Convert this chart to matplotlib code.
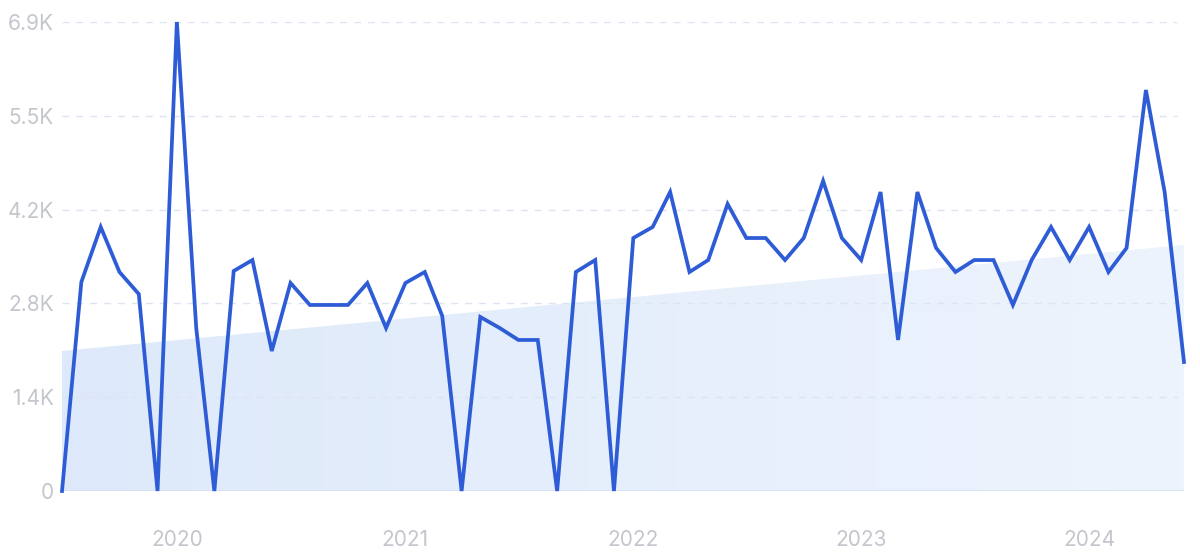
import matplotlib
matplotlib.use("Agg")
from matplotlib import pyplot as plt
import matplotlib.dates as mdates
import numpy as np
import pandas as pd

# monthly values, Jul 2019 .. Jun 2024
months = pd.date_range("2019-07-01", periods=60, freq="MS")
values = [
    0, 3075, 3884, 3222, 2898, 0,
    6900, 2398, 0, 3237, 3398, 2060, 3060, 2737, 2737, 2737, 3060, 2398,
    3060, 3222, 2575, 0, 2560, 2398, 2222, 2222, 0, 3222, 3398, 0,
    3722, 3884, 4399, 3222, 3398, 4222, 3722, 3722, 3398, 3722, 4561, 3722,
    3398, 4399, 2222, 4399, 3575, 3222, 3398, 3398, 2737, 3398, 3884, 3398,
    3884, 3222, 3575, 5900, 4399, 1898,
]
trend_ends = [2060, 3620]

y_ticks = [0, 1380, 2760, 4140, 5520, 6900]
y_labels = ["0", "1.4K", "2.8K", "4.2K", "5.5K", "6.9K"]
x_years = ["2020", "2021", "2022", "2023", "2024"]

LINE = "#2d5cd6"
GRID = "#dce4f2"
TEXT = "#c3c6cc"

plt.rcParams["font.family"] = ["Inter", "DejaVu Sans"]

fig = plt.figure(figsize=(12, 5.53), dpi=100)
ax = fig.add_axes([62 / 1200, 1 - 491 / 553, (1184 - 62) / 1200, (491 - 22) / 553])

x = mdates.date2num(months)
trend = np.interp(x, [x[0], x[-1]], trend_ends)

# gradient fill under the trend line
fill = ax.fill_between(x, 0, trend, color="none", lw=0)
grad = np.linspace(0, 1, 256).reshape(1, -1)
cmap = matplotlib.colors.LinearSegmentedColormap.from_list("g", ["#dde9fa", "#eef4fd"])
img = ax.imshow(grad, extent=[x[0], x[-1], 0, 6900], aspect="auto", cmap=cmap,
                origin="lower", zorder=1)
img.set_clip_path(fill.get_paths()[0], transform=ax.transData)

for t in y_ticks[1:]:
    ax.plot([x[0], x[0] + (x[-1] - x[0]) * 0.994], [t, t], color=GRID, lw=1,
            dashes=(5, 5), zorder=2)
ax.axhline(0, color="#d5e2f5", lw=1.2, zorder=2)

ax.plot(x, values, color=LINE, lw=2.7, zorder=5, clip_on=False,
        solid_joinstyle="miter")

ax.set_xlim(x[0], x[-1])
ax.set_ylim(0, 6900)
ax.set_yticks(y_ticks)
ax.set_yticklabels(y_labels)
ax.set_xticks([mdates.date2num(pd.Timestamp(f"{y}-01-01")) for y in x_years])
ax.set_xticklabels(x_years)
ax.tick_params(length=0, labelsize=15, colors=TEXT)
ax.tick_params(axis="y", pad=6)
ax.tick_params(axis="x", pad=28)
for s in ax.spines.values():
    s.set_visible(False)

fig.savefig("out.png", dpi=100)
